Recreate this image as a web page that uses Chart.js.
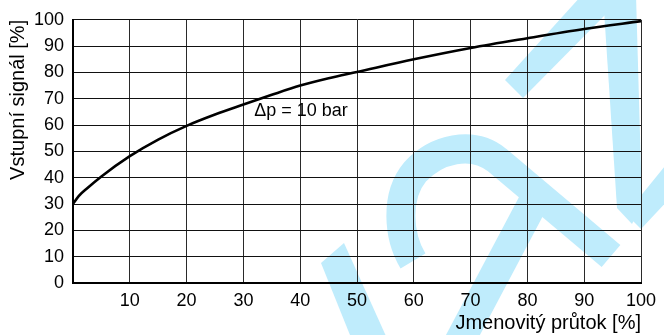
<!DOCTYPE html>
<html>
<head>
<meta charset="utf-8">
<script src="https://cdn.jsdelivr.net/npm/chart.js@4/dist/chart.umd.min.js"></script>
<style>
  html, body { margin: 0; padding: 0; background: #fff; }
  #chart { display: block; }
</style>
</head>
<body>
<canvas id="chart" width="664" height="335"></canvas>
<script>
// Nominal flow [%] vs. input signal [%] at Δp = 10 bar
const flowPct   = [0, 1, 2.5, 5, 10, 15, 20, 25, 30, 35, 40, 45, 50, 60, 70, 80, 90, 100];
const signalPct = [30, 33, 36, 40.5, 48.2, 54.5, 59.7, 64, 67.8, 71.5, 75, 77.8, 80.2, 85, 89.3, 93, 96.5, 99.5];

const xTickValues = [0, 10, 20, 30, 40, 50, 60, 70, 80, 90, 100];
const yTickValues = [0, 10, 20, 30, 40, 50, 60, 70, 80, 90, 100];

const curveLabel = 'Δp = 10 bar';
const curveLabelAt = [31.9, 65.3];

const xTitle = 'Jmenovitý průtok [%]';
const yTitle = 'Vstupní signál [%]';

const FONT = '"Liberation Sans", Arial, Helvetica, sans-serif';

// white page plus the light-blue company logo behind the grid
const backdrop = {
  id: 'backdrop',
  beforeDraw(chart) {
    const ctx = chart.ctx;
    ctx.save();
    ctx.fillStyle = '#fff';
    ctx.fillRect(0, 0, chart.width, chart.height);

    const blue = 'rgb(191,236,252)';
    ctx.fillStyle = blue;
    ctx.strokeStyle = blue;
    ctx.lineCap = 'butt';
    ctx.lineJoin = 'miter';

    const poly = (pts) => {
      ctx.beginPath();
      ctx.moveTo(pts[0][0], pts[0][1]);
      for (let i = 1; i < pts.length; i++) ctx.lineTo(pts[i][0], pts[i][1]);
      ctx.closePath();
      ctx.fill();
    };

    // lower left slash
    poly([[321, 263], [344, 243], [390, 345], [354, 345]]);

    // loop with its descending tail
    ctx.lineWidth = 29;
    ctx.beginPath();
    ctx.moveTo(413, 261);
    ctx.bezierCurveTo(398, 236, 395, 196, 415, 172);
    ctx.bezierCurveTo(436, 149, 472, 140, 497, 160);
    ctx.lineTo(611, 256);
    ctx.stroke();

    // rising stroke through the loop tail
    ctx.lineWidth = 30;
    ctx.beginPath();
    ctx.moveTo(455, 350);
    ctx.lineTo(536, 197);
    ctx.stroke();

    // right-hand peak
    poly([[505, 80], [523, 98], [610, 10], [609, -5], [582, -5]]);
    poly([[603, -5], [636, -5], [642, 205], [632, 224], [617, 208]]);
    poly([[626, 214], [641, 229], [670, 198], [670, 160]]);

    ctx.restore();
  }
};

// curve caption placed in data coordinates
const caption = {
  id: 'caption',
  afterDatasetsDraw(chart) {
    const ctx = chart.ctx;
    const xs = chart.scales.x, ys = chart.scales.y;
    ctx.save();
    ctx.font = '18px ' + FONT;
    ctx.fillStyle = '#000';
    ctx.textAlign = 'left';
    ctx.textBaseline = 'middle';
    ctx.fillText(curveLabel, xs.getPixelForValue(curveLabelAt[0]), ys.getPixelForValue(curveLabelAt[1]));
    ctx.restore();
  }
};

new Chart(document.getElementById('chart'), {
  type: 'line',
  data: {
    datasets: [{
      data: flowPct.map((x, i) => ({ x, y: signalPct[i] })),
      borderColor: '#000',
      borderWidth: 2.6,
      pointRadius: 0,
      fill: false,
      cubicInterpolationMode: 'monotone'
    }]
  },
  options: {
    responsive: false,
    animation: false,
    devicePixelRatio: 1,
    layout: { padding: { left: 0, right: 23, top: 17, bottom: 0 } },
    plugins: { legend: { display: false }, tooltip: { enabled: false } },
    scales: {
      x: {
        type: 'linear',
        min: 0, max: 100,
        afterBuildTicks(scale) { scale.ticks = xTickValues.map(v => ({ value: v })); },
        afterFit(scale) { scale.height = 52; },
        ticks: {
          color: '#000',
          font: { family: FONT, size: 18 },
          padding: 7,
          maxRotation: 0,
          autoSkip: false,
          callback: (v) => (v === 0 ? '' : String(v))
        },
        grid: { color: '#2a2a2a', lineWidth: 1, drawTicks: false },
        border: { display: true, color: '#000', width: 2 },
        title: {
          display: true,
          text: xTitle,
          align: 'end',
          color: '#000',
          font: { family: FONT, size: 20 },
          padding: { top: 0, bottom: 0 }
        }
      },
      y: {
        type: 'linear',
        min: 0, max: 100,
        afterBuildTicks(scale) { scale.ticks = yTickValues.map(v => ({ value: v })); },
        afterFit(scale) { scale.width = 73; },
        ticks: {
          color: '#000',
          font: { family: FONT, size: 18 },
          padding: 9,
          autoSkip: false
        },
        grid: { color: '#111', lineWidth: 1, drawTicks: false },
        border: { display: true, color: '#000', width: 2 },
        title: {
          display: true,
          text: yTitle,
          align: 'end',
          color: '#000',
          font: { family: FONT, size: 20 },
          padding: { top: 6, bottom: 0 }
        }
      }
    }
  },
  plugins: [backdrop, caption]
});
</script>
</body>
</html>
